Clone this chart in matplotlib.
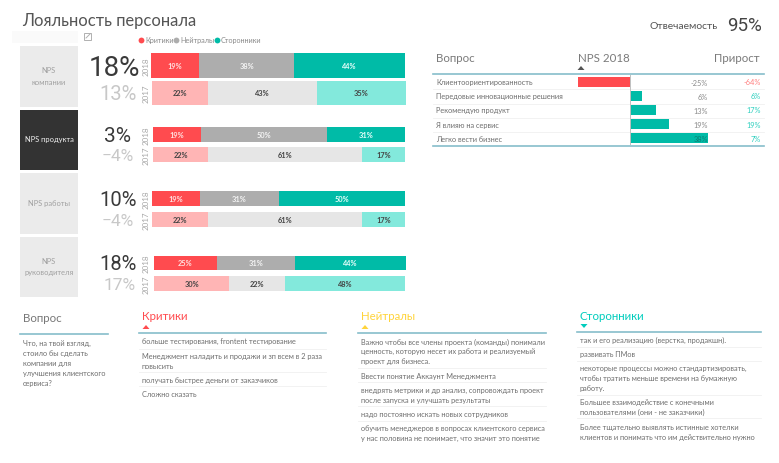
import matplotlib
matplotlib.use('Agg')
import matplotlib.pyplot as plt
from matplotlib.patches import Rectangle, Polygon

W, H = 779, 464
FONT = 'Lato'
NUM_FONT = 'Roboto'

#----------------------------------------------------
# Data
panel_names = ['NPS\nкомпании', 'NPS продукта', 'NPS работы', 'NPS\nруководителя']
nps_2018 = ['18%', '3%', '10%', '18%']
nps_2017 = ['13%', '−4%', '−4%', '17%']
crit_2018 = [19, 19, 19, 25]
neut_2018 = [38, 50, 31, 31]
sup_2018 = [44, 31, 50, 44]
crit_2017 = [22, 22, 22, 30]
neut_2017 = [43, 61, 61, 22]
sup_2017 = [35, 17, 17, 48]

questions = ['Клиентоориентированность', 'Передовые инновационные решения',
             'Рекомендую продукт', 'Я влияю на сервис', 'Легко вести бизнес']
nps_values = [-25, 6, 13, 19, 38]
growth = [-64, 6, 17, 19, 7]

question_lines = ['Что, на твой взгляд,', 'стоило бы сделать', 'компании для',
                  'улучшения клиентского', 'сервиса?']
critics_lines = ['больше тестирования, frontent тестирование',
                 'Менеджмент наладить и продажи и зп всем в 2 раза', 'повысить',
                 'получать быстрее деньги от заказчиков', 'Сложно сказать']
neutrals_lines = ['Важно чтобы все члены проекта (команды) понимали',
                  'ценность, которую несет их работа и реализуемый', 'проект для бизнеса.',
                  'Ввести понятие Аккаунт Менеджмента',
                  'внедрять метрики и др анализ, сопровождать проект',
                  'после запуска и улучшать результаты',
                  'надо постоянно искать новых сотрудников',
                  'обучить менеджеров в вопросах клиентского сервиса',
                  'у нас половина не понимает, что значит это понятие']
supporters_lines = ['так и его реализацию (верстка, продакшн).', 'развивать ПМов',
                    'некоторые процессы можно стандартизировать,',
                    'чтобы тратить меньше времени на бумажную', 'работу.',
                    'Большее взаимодействие с конечными',
                    'пользователями (они - не заказчики)',
                    'Более тщательно выявлять истинные хотелки',
                    'клиентов и понимать что им действительно нужно']

#----------------------------------------------------
# Layout and colours (pixels from the top left)
RED, GREY, TEAL = '#FF4B4F', '#ADADAD', '#00BBA7'
RED_L, GREY_L, TEAL_L = '#FFB5B5', '#E6E6E6', '#83E9DC'
RULE = '#86BDCB'
SEP = '#F0F0F0'
TXT = '#6E6E6E'
SMALL = 5.35
HEAD = 8.3

box_tops = [(47, 108), (111, 171), (174, 235), (238, 298)]
rows_2018 = [(151, 405, 54, 79), (153, 405, 128, 143), (152, 405, 192, 207), (154, 406, 257, 271)]
rows_2017 = [(152, 406, 82, 106), (153, 405, 148, 163), (152, 405, 213, 228), (154, 405, 277, 292)]
big_sizes = [20, 15, 14.5, 14.5]
old_sizes = [14.5, 12.5, 12.5, 12.5]
big_x = [114.5, 118, 118, 118]
old_x = [118, 118, 118, 120]

fig = plt.figure(figsize=(W / 100, H / 100), dpi=100, facecolor='white')
bg = fig.add_axes([0, 0, 1, 1])
bg.set_xlim(0, W)
bg.set_ylim(H, 0)
bg.axis('off')


def label(x, y, s, size=6, color=TXT, ha='left', font=FONT, **kw):
    # baseline placed so the x-height sits on y, descenders would shift a centred box
    bg.text(x, y + 0.35 * size, s, fontsize=size, color=color, ha=ha, va='baseline', family=font, **kw)


def number(x, y, s, size, color):
    bg.text(x, y + 0.5 * size, s, fontsize=size, color=color, ha='center', va='baseline', family=NUM_FONT)


def px_axes(x0, x1, y0, y1):
    ax = fig.add_axes([x0 / W, 1 - y1 / H, (x1 - x0) / W, (y1 - y0) / H])
    ax.axis('off')
    ax.patch.set_alpha(0)
    return ax


def stacked(rect, values, colors, text_colors):
    ax = px_axes(*rect)
    left = 0
    for val, col, tcol in zip(values, colors, text_colors):
        ax.barh(0, val, left=left, height=1, color=col)
        ax.text(left + val / 2, 0, f'{val}%', color=tcol, ha='center', va='center',
                fontsize=5.3, family=FONT, fontweight='bold')
        left += val
    ax.set_xlim(0, left)
    ax.set_ylim(-0.5, 0.5)


def triangle(x, y, up, color):
    s = 1 if up else -1
    bg.add_patch(Polygon([(x - 3.5, y + 2 * s), (x + 3.5, y + 2 * s), (x, y - 2 * s)],
                         color=color, lw=0))


#----------------------------------------------------
# Header
label(22, 22, 'Лояльность персонала', size=11.9, color='#555555')
bg.add_patch(Rectangle((12, 32), 66, 12, color='#FAFAFA', lw=0))
bg.add_patch(Rectangle((84, 33.5), 7, 7, fill=False, ec='#B0B0B0', lw=0.7))
bg.plot([86, 90], [39, 35], color='#B0B0B0', lw=0.7)
label(650, 26, 'Отвечаемость', size=7.5, color='#555555')
number(744.5, 24, '95%', 13.5, '#444444')

# Legend
for x, tx, col, name in zip([141, 176.5, 217], [145, 180, 221], [RED, GREY, TEAL],
                            ['Критики', 'Нейтралы', 'Сторонники']):
    bg.plot(x, 41, 'o', ms=4.2, color=col, mew=0)
    label(tx, 41.5, name, size=5.2, color='#8A8A8A')

#----------------------------------------------------
# NPS panels
for i in range(4):
    y0, y1 = box_tops[i]
    dark = i == 1
    bg.add_patch(Rectangle((20, y0), 58, y1 - y0, lw=0, color='#333333' if dark else '#EBEBEB'))
    bg.text(49, (y0 + y1) / 2 - 1, panel_names[i], fontsize=5.4, family=FONT, ha='center', va='center',
            color='#F0F0F0' if dark else '#A0A0A0', linespacing=1.7)

    r18, r17 = rows_2018[i], rows_2017[i]
    number(big_x[i], (r18[2] + r18[3]) / 2 - 1, nps_2018[i], big_sizes[i], '#3A3A3A')
    number(old_x[i], (r17[2] + r17[3]) / 2 - 1, nps_2017[i], old_sizes[i], '#C8C8C8')
    for yr, r in (('2018', r18), ('2017', r17)):
        bg.text(146, (r[2] + r[3]) / 2, yr, fontsize=5.8, family=FONT, color='#A8A8A8',
                ha='center', va='center', rotation=90)

    stacked(r18, [crit_2018[i], neut_2018[i], sup_2018[i]], [RED, GREY, TEAL], ['#FFE0E0', '#F4F4F4', '#E8FFFB'])
    stacked(r17, [crit_2017[i], neut_2017[i], sup_2017[i]], [RED_L, GREY_L, TEAL_L], ['#444444'] * 3)

#----------------------------------------------------
# Question table with diverging bars
label(436, 59, 'Вопрос', size=HEAD, color='#7A7A7A')
label(578, 59, 'NPS 2018', size=HEAD, color='#7A7A7A')
label(760, 59, 'Прирост', size=HEAD, color='#7A7A7A', ha='right')
triangle(581, 69, True, '#555555')
bg.plot([433, 764], [75, 75], color=RULE, lw=1.2)
bg.plot([433, 764], [147, 147], color=RULE, lw=1.2)
row_y = [83, 97.5, 111.5, 126, 140]
for y in [90, 104.5, 119, 133]:
    bg.plot([433, 764], [y, y], color=SEP, lw=0.6)
for y, q, gr in zip(row_y, questions, growth):
    label(436, y, q, size=SMALL)
    label(761, y, f'{gr}%', size=SMALL, color='#FF7F7F' if gr < 0 else '#2CCFBE', ha='right')

ax_nps = px_axes(578, 708, 76, 146)
ax_nps.barh(range(5), nps_values, height=0.68, color=[RED if v < 0 else TEAL for v in nps_values])
ax_nps.axvline(0, color='#C0C0C0', lw=0.7)
ax_nps.set_xlim(min(nps_values), max(nps_values))
ax_nps.set_ylim(4.5, -0.5)
# values right-aligned at the axes edge, the 38% one sits on its bar
for i, val in enumerate(nps_values):
    ax_nps.text(max(nps_values), i, f'{val}%', color='#0A7F72' if val == max(nps_values) else '#8A8A8A',
                fontsize=SMALL, family=FONT, ha='right', va='center')

#----------------------------------------------------
# Comment tables
label(23, 319, 'Вопрос', size=HEAD, color='#777777')
bg.plot([20, 108], [335, 335], color=RULE, lw=1.2)
for y, s in zip([344, 354, 364, 374, 384], question_lines):
    label(23, y, s, size=SMALL)

columns = [
    ('Критики', RED, 142, 326, 334, True, critics_lines, [342, 357, 367, 381, 395], [350, 373, 387]),
    ('Нейтралы', '#FFD43B', 361, 546, 334, True, neutrals_lines,
     [343, 352, 362, 377, 391, 401, 415, 429, 439], [369, 383, 407, 422]),
    ('Сторонники', '#00CDBD', 580, 761, 333, False, supporters_lines,
     [341, 355, 369, 379, 389, 403, 413, 428, 438], [348, 362, 396, 419]),
]
for name, col, x, x_end, rule_y, up, lines, ys, seps in columns:
    label(x, 317, name, size=HEAD, color=col)
    triangle(x + 4, 328 if up else 327, up, col)
    bg.plot([x - 3, x_end], [rule_y, rule_y], color=RULE, lw=1.2)
    for y in seps:
        bg.plot([x - 3, x_end], [y, y], color=SEP, lw=0.6)
    for y, s in zip(ys, lines):
        label(x, y, s, size=SMALL)

fig.savefig('out.png', dpi=100)
